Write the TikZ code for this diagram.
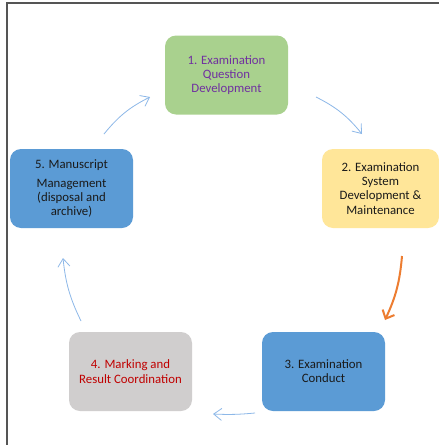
\documentclass[tikz,border=0pt]{standalone}
\usepackage{fontspec}
\setmainfont{Carlito}
\usetikzlibrary{arrows.meta}
\definecolor{boxgreen}{HTML}{A9D18E}
\definecolor{boxyellow}{HTML}{FFE699}
\definecolor{boxblue}{HTML}{5B9BD5}
\definecolor{boxgray}{HTML}{D0CECE}
\definecolor{txtpurple}{HTML}{7030A0}
\definecolor{txtred}{HTML}{C00000}
\definecolor{txtdark}{HTML}{1A1A1A}
\definecolor{arrblue}{HTML}{8DB8E8}
\definecolor{arrorange}{HTML}{ED7D31}
\definecolor{framegray}{HTML}{555555}
\begin{document}
\begin{tikzpicture}[x=1pt,y=-1pt,
  stagebox/.style={draw=none, rounded corners=11pt, minimum width=123pt, minimum height=79pt,
    inner sep=0pt, align=center, font=\fontsize{12.8}{14.2}\selectfont, text=txtdark},
  cyclearrow/.style={draw=arrblue, line width=0.8pt, -{Straight Barb[length=8pt,width=12pt,line width=0.8pt]}},
  bigarrow/.style={draw=arrorange, line width=2pt, -{Straight Barb[length=7pt,width=13pt,line width=2pt]}}]
\useasboundingbox (0,0) rectangle (439,445);
\fill[white] (0,0) rectangle (439,445);
% frame
\coordinate (fa) at (7,445);
\coordinate (fb) at (7,3);
\coordinate (fc) at (439,3);
\draw[framegray, line width=1.3pt] (fa) -- (fb) -- (fc);
% boxes
\node[stagebox, fill=boxgreen, text=txtpurple] (s1) at (226.5,75) {1. Examination\\Question\\Development};
\node[stagebox, fill=boxyellow, minimum width=117pt] (s2) at (380.5,188.5) {2. Examination\\System\\Development \&\\Maintenance};
\node[stagebox, fill=boxblue] (s3) at (323.5,371.5) {3. Examination\\Conduct};
\node[stagebox, fill=boxgray, text=txtred] (s4) at (130.5,371.5) {4. Marking and\\Result Coordination};
\node[stagebox, fill=boxblue] (s5) at (71.5,188.5) {5. Manuscript\\[5pt]Management\\(disposal and\\archive)};
% arrow end points
\coordinate (a51) at (104,134);
\coordinate (b51) at (150,97);
\coordinate (a12) at (316,97);
\coordinate (b12) at (362,134);
\coordinate (a23) at (402,256);
\coordinate (b23) at (385,320);
\coordinate (a34) at (255,413);
\coordinate (b34) at (213,414);
\coordinate (a45) at (81,321);
\coordinate (b45) at (63,258);
\draw[cyclearrow] (a51) to[bend left=12] (b51);
\draw[cyclearrow] (a12) to[bend left=12] (b12);
\draw[bigarrow] (a23) to[bend left=10] (b23);
\draw[cyclearrow] (a34) to[bend left=4] (b34);
\draw[cyclearrow] (a45) to[bend left=10] (b45);
\end{tikzpicture}
\end{document}
